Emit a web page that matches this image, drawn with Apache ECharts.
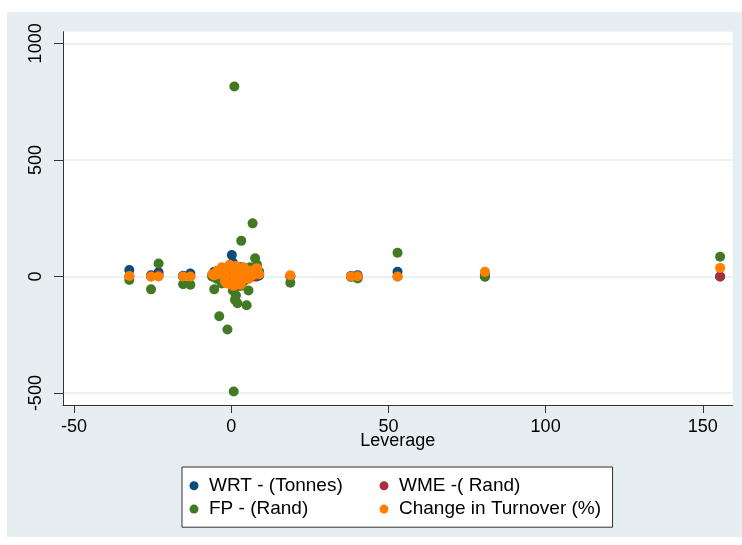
<!DOCTYPE html>
<html>
<head>
<meta charset="utf-8">
<script src="https://cdn.jsdelivr.net/npm/echarts@6/dist/echarts.min.js"></script>
<style>
html,body{margin:0;padding:0;background:#fff;}
#c{width:742px;height:545px;}
</style>
</head>
<body>
<div id="c"></div>
<script>
// Leverage (x) for each observation
const leverage = [-32.4, -25.5, -23.1, -15.3, -13.0, 18.8, 38.1, 40.2, 52.9, 80.7, 155.5,
  -5.4, -4.5, -3.8, -3.0, -2.0, -1.2, -0.5, 0.2, 0.5, 0.8, 1.0, 1.2, 1.5, 2.0, 2.5, 3.2, 3.5,
  4.0, 4.9, 5.5, 6.0, 6.8, 7.6, 8.2, 8.9, -6.0, 3.0, -1.5, 5.0];
const wrt = [28, 5, 18, 3, 13, 2, 2, 6, 20, 5, 0,
  20, 5, 2, 0, 10, 5, 30, 92, 60, 15, 8, 3, 10, 20, 5, 12, 0,
  25, 8, 2, 15, 30, 10, 0, 5, 8, 40, 12, 20];
const wme = [0, 0, 5, 0, 0, 1, 0, 0, 0, 0, 0,
  0, 0, 0, 0, 0, 0, 0, 0, 0, 0, 0, 0, 0, 0, 0, 0, 0,
  0, 0, 0, 0, 0, 0, 15, 16, 0, 0, 0, 0];
const fp = [-15, -55, 56, -33, -35, -27, -2, -8, 102, -1, 85,
  -55, -10, -170, -30, 15, -227, 20, -20, -60, -493, 815, -100, -80, -115, -40, 153, 30,
  -20, -123, -60, 40, 228, 78, 50, 20, 0, -40, -25, -10];
const turnover = [2, 0, 0, 0, 0, 6, 0, 1, 0, 20, 37,
  5, 25, 10, 40, -20, 10, 50, -35, 30, -40, 20, -15, 45, 0, 35, -20, 15,
  40, 10, -10, 25, 5, 30, 36, 10, 10, -35, -30, 20];

const seriesNames = ['WRT - (Tonnes)', 'WME -( Rand)', 'FP - (Rand)', 'Change in Turnover (%)'];
const seriesColors = ['#0a4c7c', '#a3313b', '#437923', '#ff8000'];
const xTicks = [-50, 0, 50, 100, 150];
const yTicks = [-500, 0, 500, 1000];

const pairs = (ys) => leverage.map((x, i) => [x, ys[i]]);
const allY = [wrt, wme, fp, turnover];

const font = 'Liberation Sans, Arial, sans-serif';
const chart = echarts.init(document.getElementById('c'));
chart.setOption({
  animation: false,
  textStyle: {fontFamily: font},
  graphic: [{
    type: 'rect', z: -100, silent: true,
    shape: {x: 7, y: 12, width: 735, height: 525},
    style: {fill: '#e6eef2'}
  }],
  grid: {left: 63, right: 9.3, top: 31.7, bottom: 140, show: true, backgroundColor: '#ffffff', borderWidth: 0},
  xAxis: {
    type: 'value', min: -53.5, max: 159.5,
    name: 'Leverage', nameLocation: 'middle', nameGap: 27, nameMoveOverlap: false,
    nameTextStyle: {fontSize: 18, color: '#000', fontFamily: font},
    axisLine: {show: true, onZero: false, lineStyle: {color: '#333', width: 1}},
    axisTick: {show: true, length: 8, customValues: xTicks, lineStyle: {color: '#333'}},
    axisLabel: {customValues: xTicks, fontSize: 18, color: '#000', margin: 13, fontFamily: font,
      formatter: (v) => String(v)},
    splitLine: {show: false}
  },
  yAxis: {
    type: 'value', min: -551, max: 1050,
    axisLine: {show: true, onZero: false, lineStyle: {color: '#333', width: 1}},
    axisTick: {show: true, length: 9, customValues: yTicks, lineStyle: {color: '#333'}},
    axisLabel: {customValues: yTicks, fontSize: 18, color: '#000', rotate: 90, margin: 18, fontFamily: font,
      formatter: (v) => String(v)},
    splitLine: {show: true, lineStyle: {color: '#e3eef2', width: 1.5}}
  },
  legend: {
    data: seriesNames,
    orient: 'horizontal',
    left: 182, top: 467,
    width: 430,
    padding: [9.3, 11.5, 8.6, 7.5],
    itemGap: 4.3,
    itemWidth: 9, itemHeight: 9,
    icon: 'circle',
    borderColor: '#333', borderWidth: 1, backgroundColor: '#ffffff',
    textStyle: {fontSize: 19, color: '#000', width: 166.2, lineHeight: 19, padding: [0, 0, 0, 5.5], fontFamily: font}
  },
  series: seriesNames.map((n, i) => ({
    name: n, type: 'scatter', symbol: 'circle', symbolSize: 10,
    itemStyle: {color: seriesColors[i], opacity: 1},
    data: pairs(allY[i])
  }))
});
</script>
</body>
</html>
